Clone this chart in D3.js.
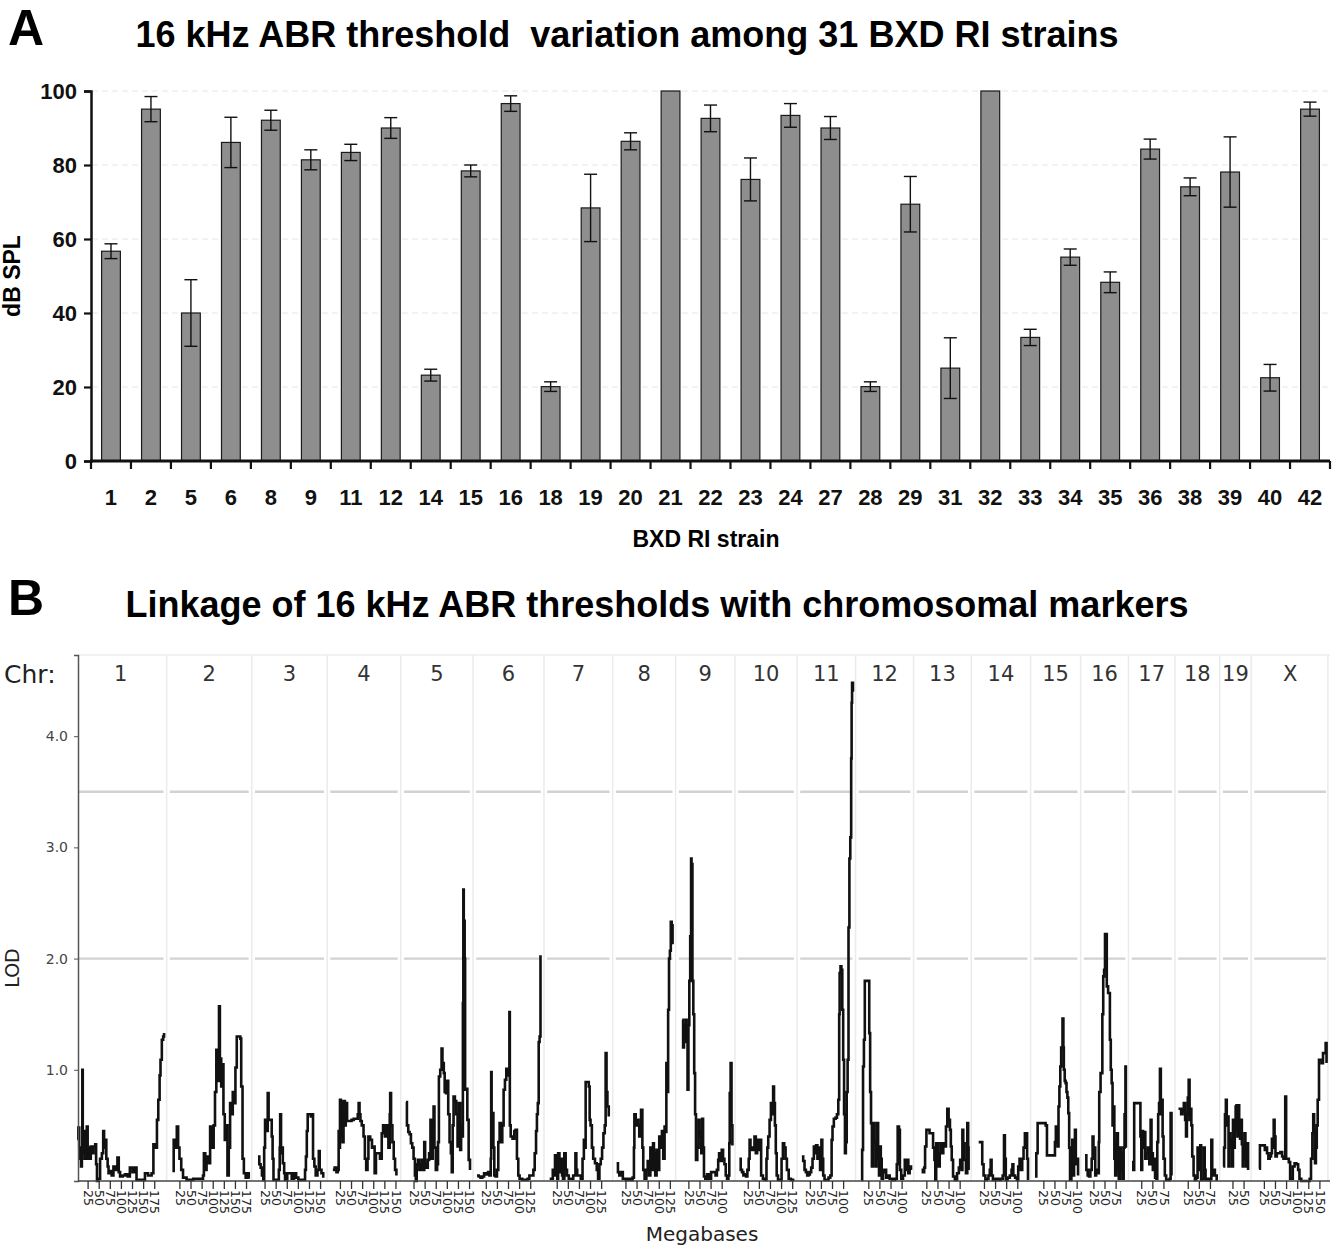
<!DOCTYPE html>
<html><head><meta charset="utf-8">
<script src="https://cdn.jsdelivr.net/npm/d3@7"></script>
<style>
html,body{margin:0;padding:0;background:#fff;}
svg{display:block;}
</style></head>
<body>
<svg id="chart" width="1334" height="1248"></svg>
<script>
// ---------------- Panel A data ----------------
const strains = ["1","2","5","6","8","9","11","12","14","15","16","18","19","20","21","22","23","24","27","28","29","31","32","33","34","35","36","38","39","40","42"];
const thresholds = [56.7,95.1,40.0,86.1,92.1,81.4,83.4,90.0,23.2,78.4,96.6,20.1,68.4,86.4,100,92.6,76.1,93.4,90.0,20.1,69.4,25.1,100,33.4,55.1,48.3,84.3,74.1,78.1,22.5,95.1];
const errors = [2.0,3.4,9.0,6.8,2.7,2.7,2.2,2.8,1.6,1.6,2.1,1.3,9.1,2.3,0,3.6,5.8,3.2,3.1,1.3,7.5,8.2,0,2.2,2.2,2.8,2.7,2.4,9.5,3.6,1.9];
const dbTicks = [0,20,40,60,80,100];

// ---------------- Panel B data ----------------
const chrNames = ["1","2","3","4","5","6","7","8","9","10","11","12","13","14","15","16","17","18","19","X"];
const chrLengths = [197,182,160,156,153,150,145,132,124,130,122,121,120,124,103,98,95,91,61,166];
const lodTicks = [1.0,2.0,3.0,4.0];
const lodThresholds = [3.5,2.0];
const lod1 = [[1.5,0.37],[3,0.48],[5,0.3],[7,0.2],[9,0.13],[11,0.3],[12,1.0],[13,0.25],[15,0.45],[17,0.2],[19,0.35],[22,0.49],[24,0.2],[26,0.3],[29,0.2],[31,0.31],[34,0.25],[37,0.31],[41,0.33],[43,0.15],[45,0.0],[48,0.02],[52,0.2],[56,0.25],[59,0.45],[61,0.3],[63,0.37],[66,0.2],[69,0.13],[71,0.07],[75,0.09],[78,0.05],[82,0.13],[87,0.1],[91,0.21],[94,0.08],[97,0.04],[103,0.05],[108,0.06],[114,0.04],[119,0.12],[125,0.08],[130,0.12],[134,0.01],[149,0.01],[153,0.07],[160,0.05],[168,0.07],[172,0.33],[177,0.3],[180,0.55],[183,0.73],[186,0.95],[188,1.09],[191,1.27],[194,1.3],[196,1.33]];
const lod2 = [[8,0.09],[11,0.37],[14,0.3],[18,0.49],[21,0.3],[24,0.2],[28,0.1],[32,0.03],[40,0.01],[55,0.02],[70,0.02],[77,0.05],[79,0.25],[82,0.1],[85,0.22],[89,0.16],[93,0.49],[97,0.3],[101,0.5],[104,0.8],[107,1.18],[110,0.9],[113,1.57],[115,1.1],[118,0.85],[120,1.05],[123,0.6],[126,0.37],[129,0.5],[132,0.05],[135,0.3],[138,0.7],[141,0.6],[144,0.8],[147,0.7],[150,1.02],[153,1.3],[157,1.3],[161,1.28],[163,0.85],[166,0.2],[169,0.07],[173,0.03],[177,0.07],[180,0.02]];
const lod3 = [[9,0.22],[12,0.15],[15,0.12],[18,0.05],[21,0.01],[23,0.3],[25,0.55],[28,0.45],[31,0.79],[33,0.55],[37,0.55],[40,0.4],[42,0.2],[44,0.01],[50,0.01],[56,0.1],[58,0.3],[59,0.6],[61,0.25],[63,0.3],[65,0.16],[68,0.07],[70,0.01],[75,0.07],[80,0.07],[85,0.02],[90,0.07],[95,0.03],[100,0.01],[110,0.01],[115,0.1],[117,0.22],[119,0.45],[121,0.6],[128,0.58],[131,0.6],[133,0.2],[136,0.13],[139,0.05],[143,0.1],[146,0.27],[148,0.1],[152,0.07],[156,0.03]];
const lod4 = [[8,0.1],[12,0.12],[16,0.08],[19,0.1],[21,0.45],[23,0.3],[24,0.73],[26,0.4],[28,0.7],[30,0.35],[32,0.72],[35,0.5],[37,0.7],[40,0.54],[45,0.54],[50,0.55],[55,0.56],[60,0.56],[64,0.6],[66,0.7],[68,0.6],[70,0.54],[73,0.5],[77,0.4],[80,0.2],[83,0.1],[86,0.2],[88,0.4],[92,0.37],[96,0.3],[99,0.31],[102,0.07],[105,0.25],[110,0.25],[114,0.2],[118,0.43],[121,0.5],[125,0.4],[129,0.5],[133,0.3],[136,0.6],[137,0.79],[139,0.5],[142,0.35],[145,0.2],[148,0.1],[151,0.05]];
const lod5 = [[7,0.71],[9,0.5],[12,0.44],[15,0.42],[18,0.34],[21,0.3],[24,0.2],[27,0.05],[29,0.0],[31,0.15],[34,0.19],[37,0.1],[40,0.15],[43,0.19],[45,0.1],[48,0.35],[50,0.15],[53,0.12],[56,0.19],[59,0.25],[62,0.55],[64,0.2],[67,0.45],[69,0.67],[71,0.3],[74,0.1],[77,0.15],[79,0.35],[81,0.94],[84,1.0],[87,1.19],[89,1.06],[92,0.97],[94,0.8],[97,0.79],[99,0.9],[102,0.6],[105,0.35],[108,0.25],[110,0.08],[112,0.5],[114,0.76],[117,0.72],[120,0.6],[123,0.31],[126,0.7],[129,0.28],[131,0.5],[133,0.4],[135,1.6],[136,2.62],[137,1.8],[138,2.34],[139,2.0],[140,0.82],[142,0.83],[145,0.55],[148,0.19],[151,0.1]];
const lod6 = [[4,0.05],[8,0.04],[12,0.03],[16,0.04],[20,0.07],[25,0.06],[29,0.08],[32,0.05],[35,0.2],[36,0.98],[37,0.3],[39,0.61],[41,0.3],[43,0.05],[46,0.04],[49,0.1],[52,0.35],[55,0.52],[58,0.35],[61,0.5],[64,0.82],[67,0.91],[70,1.01],[73,1.0],[75,0.95],[77,1.52],[78,0.5],[80,0.4],[84,0.38],[88,0.45],[91,0.46],[94,0.2],[97,0.05],[100,0.02],[106,0.01],[113,0.01],[118,0.02],[122,0.05],[127,0.05],[131,0.1],[134,0.25],[137,0.45],[139,0.6],[141,0.7],[143,1.25],[145,1.3],[147,2.03]];
const lod7 = [[8,0.02],[12,0.02],[15,0.1],[18,0.05],[20,0.23],[22,0.08],[25,0.02],[27,0.25],[30,0.08],[33,0.2],[36,0.05],[38,0.02],[41,0.25],[44,0.1],[47,0.05],[51,0.02],[56,0.02],[61,0.05],[66,0.25],[68,0.1],[70,0.05],[74,0.05],[78,0.02],[82,0.2],[85,0.37],[87,0.3],[89,0.89],[93,0.89],[96,0.85],[98,0.55],[100,0.5],[103,0.3],[106,0.2],[110,0.16],[114,0.1],[117,0.02],[120,0.15],[123,0.2],[126,0.3],[129,0.43],[132,0.5],[134,1.15],[136,0.8],[138,0.67],[141,0.58]];
const lod8 = [[4,0.16],[7,0.08],[10,0.05],[13,0.08],[18,0.02],[25,0.01],[30,0.02],[36,0.01],[40,0.03],[43,0.3],[44,0.6],[47,0.5],[50,0.55],[53,0.5],[55,0.4],[57,0.5],[59,0.64],[62,0.3],[64,0.1],[67,0.02],[71,0.1],[74,0.18],[77,0.05],[80,0.3],[83,0.1],[86,0.34],[88,0.25],[91,0.05],[94,0.28],[97,0.1],[100,0.4],[103,0.3],[106,0.45],[109,0.2],[112,0.49],[114,0.44],[116,1.06],[118,0.8],[120,1.54],[122,2.0],[124,2.07],[126,2.33],[128,2.3],[130,2.13]];
const lod9 = [[10,1.45],[12,1.2],[14,1.4],[16,1.25],[18,1.45],[20,1.3],[22,0.82],[24,1.4],[26,1.8],[28,2.2],[30,2.9],[31,2.85],[33,1.8],[35,1.5],[37,0.97],[39,0.6],[41,0.19],[44,0.3],[47,0.55],[49,0.4],[51,0.45],[53,0.25],[55,0.56],[57,0.3],[59,0.04],[62,0.02],[66,0.06],[70,0.02],[75,0.08],[80,0.08],[85,0.05],[88,0.1],[91,0.19],[93,0.25],[96,0.18],[99,0.28],[102,0.2],[105,0.15],[108,0.05],[111,0.02],[114,0.05],[116,0.34],[117,0.79],[119,1.06],[121,0.5],[123,0.32]];
const lod10 = [[5,0.2],[8,0.1],[11,0.08],[14,0.05],[17,0.06],[20,0.04],[23,0.1],[26,0.2],[28,0.37],[30,0.28],[33,0.3],[36,0.28],[39,0.4],[42,0.25],[45,0.37],[48,0.28],[51,0.37],[54,0.05],[58,0.02],[62,0.01],[66,0.2],[68,0.3],[70,0.4],[73,0.55],[76,0.7],[79,0.6],[81,0.85],[83,0.7],[85,0.5],[87,0.25],[89,0.05],[92,0.01],[97,0.01],[100,0.2],[103,0.34],[106,0.3],[109,0.2],[112,0.1],[116,0.02],[121,0.01],[126,0.0]];
const lod11 = [[6,0.22],[9,0.18],[12,0.1],[15,0.08],[18,0.05],[21,0.06],[24,0.08],[27,0.12],[30,0.2],[33,0.31],[36,0.25],[38,0.32],[41,0.2],[44,0.3],[47,0.1],[50,0.37],[52,0.2],[54,0.05],[57,0.01],[62,0.01],[66,0.03],[70,0.05],[73,0.37],[75,0.49],[78,0.56],[82,0.57],[85,0.6],[88,0.73],[90,1.5],[91,1.87],[93,1.93],[95,1.9],[97,1.54],[99,1.09],[101,0.6],[103,0.25],[105,0.35],[107,0.8],[109,1.09],[111,2.28],[113,2.9],[115,3.09],[117,3.8],[118,4.3],[119,4.48],[121,4.4]];
const lod12 = [[8,0.01],[10,0.28],[12,1.03],[14,1.27],[16,1.8],[19,1.8],[23,1.8],[26,1.33],[28,0.8],[30,0.52],[32,0.13],[34,0.52],[36,0.52],[38,0.35],[40,0.13],[42,0.3],[44,0.52],[46,0.2],[48,0.05],[50,0.31],[52,0.2],[54,0.02],[57,0.08],[60,0.1],[64,0.03],[68,0.05],[72,0.02],[78,0.01],[84,0.02],[88,0.15],[90,0.49],[93,0.46],[95,0.1],[98,0.02],[102,0.05],[106,0.19],[108,0.1],[111,0.19],[114,0.07],[117,0.13],[120,0.1]];
const lod13 = [[13,0.1],[16,0.08],[19,0.12],[21,0.31],[24,0.46],[28,0.46],[31,0.43],[35,0.43],[39,0.3],[42,0.19],[44,0.01],[46,0.34],[49,0.34],[51,0.13],[54,0.25],[57,0.34],[59,0.25],[62,0.34],[65,0.31],[68,0.49],[71,0.65],[74,0.55],[77,0.46],[79,0.31],[81,0.19],[84,0.04],[88,0.01],[93,0.07],[97,0.12],[100,0.19],[103,0.1],[105,0.46],[107,0.34],[110,0.19],[113,0.07],[116,0.52],[118,0.3],[119,0.1]];
const lod14 = [[12,0.35],[15,0.35],[18,0.35],[20,0.15],[23,0.05],[27,0.01],[30,0.02],[34,0.05],[37,0.1],[39,0.19],[41,0.05],[44,0.01],[50,0.02],[56,0.01],[62,0.02],[66,0.05],[69,0.41],[71,0.2],[73,0.01],[77,0.03],[82,0.05],[86,0.1],[88,0.15],[90,0.05],[94,0.03],[98,0.01],[101,0.13],[104,0.2],[107,0.1],[110,0.2],[113,0.3],[116,0.43],[119,0.43],[121,0.2],[123,0.01]];
const lod15 = [[5,0.04],[8,0.25],[11,0.52],[15,0.52],[20,0.52],[25,0.52],[29,0.5],[32,0.23],[36,0.23],[42,0.23],[47,0.23],[50,0.35],[52,0.49],[55,0.49],[56,0.31],[58,0.67],[60,0.85],[62,1.03],[64,1.2],[67,1.46],[69,1.2],[70,1.0],[72,0.9],[74,0.88],[76,0.8],[78,0.75],[80,0.61],[82,0.3],[84,0.01],[87,0.1],[89,0.37],[91,0.05],[93,0.2],[95,0.46],[97,0.15],[100,0.2],[102,0.05]];
const lod16 = [[5,0.23],[8,0.1],[11,0.05],[14,0.04],[17,0.1],[20,0.2],[22,0.4],[24,0.2],[26,0.3],[28,0.05],[30,0.1],[33,0.07],[36,0.35],[37,0.8],[40,0.97],[42,0.97],[44,1.5],[46,1.84],[48,1.9],[50,2.22],[52,2.22],[54,1.75],[57,1.69],[59,1.69],[61,1.27],[63,1.0],[65,0.88],[67,0.5],[69,0.67],[71,0.2],[73,0.05],[75,0.35],[77,0.43],[79,0.1],[81,0.02],[84,0.3],[86,0.25],[88,0.1],[90,0.02],[92,0.3],[94,0.6],[96,1.03],[97,0.3]];
const lod17 = [[3,0.17],[6,0.1],[8,0.7],[12,0.7],[16,0.7],[20,0.7],[22,0.4],[24,0.1],[26,0.45],[28,0.3],[30,0.44],[33,0.2],[36,0.25],[39,0.3],[42,0.15],[45,0.55],[47,0.25],[50,0.1],[53,0.2],[55,0.03],[58,0.02],[60,0.35],[62,0.6],[64,0.7],[66,1.01],[68,0.6],[70,0.73],[72,0.4],[74,0.2],[77,0.05],[80,0.01],[84,0.01],[88,0.02],[90,0.61],[92,0.05]];
const lod18 = [[3,0.65],[6,0.65],[9,0.6],[12,0.63],[15,0.7],[18,0.55],[20,0.4],[22,0.6],[24,0.75],[26,0.91],[28,0.55],[30,0.65],[32,0.5],[34,0.22],[37,0.05],[40,0.01],[43,0.03],[46,0.3],[48,0.1],[50,0.3],[52,0.32],[54,0.01],[57,0.02],[60,0.3],[62,0.1],[64,0.01],[68,0.02],[72,0.01],[75,0.02],[77,0.37],[79,0.05],[82,0.1],[85,0.05],[89,0.0]];
const lod19 = [[3,0.13],[5,0.3],[7,0.6],[9,0.73],[11,0.5],[13,0.58],[15,0.13],[17,0.43],[19,0.3],[21,0.38],[23,0.13],[25,0.55],[27,0.3],[29,0.46],[31,0.67],[33,0.68],[35,0.4],[37,0.68],[39,0.5],[41,0.38],[43,0.55],[45,0.33],[47,0.13],[49,0.2],[51,0.43],[53,0.3],[55,0.13],[57,0.34],[59,0.1]];
const lodX = [[13,0.11],[15,0.32],[19,0.32],[23,0.32],[26,0.28],[29,0.3],[31,0.25],[34,0.2],[37,0.22],[40,0.25],[42,0.38],[44,0.3],[46,0.55],[48,0.4],[50,0.22],[53,0.25],[57,0.25],[61,0.26],[65,0.22],[68,0.2],[72,0.76],[74,0.2],[77,0.2],[80,0.17],[83,0.02],[86,0.02],[89,0.13],[93,0.16],[97,0.15],[101,0.1],[104,0.02],[108,0.0],[115,0.0],[122,0.0],[127,0.02],[130,0.2],[133,0.43],[135,0.6],[137,0.45],[139,0.16],[141,0.3],[143,0.5],[145,0.73],[148,1.09],[151,1.09],[154,1.06],[157,1.15],[160,1.15],[163,1.24],[165,1.06]];
const lodByChr = [lod1,lod2,lod3,lod4,lod5,lod6,lod7,lod8,lod9,lod10,lod11,lod12,lod13,lod14,lod15,lod16,lod17,lod18,lod19,lodX];

const svg = d3.select("#chart");
const bold = "'Liberation Sans', Arial, Helvetica, sans-serif";
const verd = "'DejaVu Sans', Verdana, sans-serif";

// ============ PANEL A ============
svg.append("text").attr("x",8).attr("y",45).attr("font-family",bold).attr("font-weight","bold")
  .attr("font-size",50).text("A");
svg.append("text").attr("x",627).attr("y",47).attr("text-anchor","middle").attr("font-family",bold)
  .attr("font-weight","bold").attr("font-size",36).style("white-space","pre")
  .text("16 kHz ABR threshold  variation among 31 BXD RI strains");

const xA = d3.scaleBand().domain(strains).range([91,1330]);
const yA = d3.scaleLinear().domain([0,100]).range([461,91]);
const gA = svg.append("g");

// grid
gA.selectAll("line.grid").data(dbTicks.filter(d=>d>0)).join("line")
  .attr("x1",92).attr("x2",1330).attr("y1",d=>yA(d)).attr("y2",d=>yA(d))
  .attr("stroke","#e6e6e6").attr("stroke-width",1).attr("stroke-dasharray","6,4");

// bars
const bw = xA.bandwidth()*0.47;
gA.selectAll("rect.bar").data(strains).join("rect")
  .attr("x",(d)=>xA(d)+xA.bandwidth()/2-bw/2)
  .attr("y",(d,i)=>yA(thresholds[i]))
  .attr("width",bw)
  .attr("height",(d,i)=>yA(0)-yA(thresholds[i]))
  .attr("fill","#8e8e8e").attr("stroke","#1a1a1a").attr("stroke-width",1.2);

// error bars
const eb = gA.selectAll("g.eb").data(strains.map((s,i)=>({s,v:thresholds[i],e:errors[i]})).filter(d=>d.e>0)).join("g");
eb.append("line").attr("x1",d=>xA(d.s)+xA.bandwidth()/2).attr("x2",d=>xA(d.s)+xA.bandwidth()/2)
  .attr("y1",d=>yA(d.v-d.e)).attr("y2",d=>yA(d.v+d.e)).attr("stroke","#111").attr("stroke-width",1.4);
[-1,1].forEach(sgn=>{
  eb.append("line").attr("x1",d=>xA(d.s)+xA.bandwidth()/2-6.5).attr("x2",d=>xA(d.s)+xA.bandwidth()/2+6.5)
    .attr("y1",d=>yA(d.v+sgn*d.e)).attr("y2",d=>yA(d.v+sgn*d.e)).attr("stroke","#111").attr("stroke-width",1.4);
});

// y axis
const yAxA = d3.axisLeft(yA).tickValues(dbTicks).tickSize(7).tickPadding(7).tickFormat(d3.format("d"));
const gy = gA.append("g").attr("transform","translate(91,0)").call(yAxA);
gy.select(".domain").attr("stroke","#111").attr("stroke-width",2.5);
gy.selectAll(".tick line").attr("stroke","#111").attr("stroke-width",2.2);
gy.selectAll(".tick text").attr("font-family",bold).attr("font-weight","bold").attr("font-size",22).attr("fill","#111");

// x axis line + boundary ticks
gA.append("line").attr("x1",90).attr("x2",1330).attr("y1",461).attr("y2",461).attr("stroke","#111").attr("stroke-width",2.8);
const bounds = strains.map(s=>xA(s)).concat([xA.range()[1]]);
gA.selectAll("line.bt").data(bounds).join("line")
  .attr("x1",d=>d).attr("x2",d=>d).attr("y1",461).attr("y2",469).attr("stroke","#111").attr("stroke-width",2.2);
gA.selectAll("text.xl").data(strains).join("text")
  .attr("x",d=>xA(d)+xA.bandwidth()/2).attr("y",505).attr("text-anchor","middle")
  .attr("font-family",bold).attr("font-weight","bold").attr("font-size",22).attr("fill","#111").text(d=>d);
svg.append("text").attr("x",706).attr("y",547).attr("text-anchor","middle").attr("font-family",bold)
  .attr("font-weight","bold").attr("font-size",23).text("BXD RI strain");
svg.append("text").attr("transform","translate(20,276) rotate(-90)").attr("text-anchor","middle")
  .attr("font-family",bold).attr("font-weight","bold").attr("font-size",23).text("dB SPL");

// ============ PANEL B ============
svg.append("text").attr("x",8).attr("y",615).attr("font-family",bold).attr("font-weight","bold")
  .attr("font-size",50).text("B");
svg.append("text").attr("x",657).attr("y",617).attr("text-anchor","middle").attr("font-family",bold)
  .attr("font-weight","bold").attr("font-size",36)
  .text("Linkage of 16 kHz ABR thresholds with chromosomal markers");

const gapMb = 9.7;
const chrStart = [];
let acc = 0;
chrLengths.forEach((L,i)=>{ chrStart.push(acc); acc += L + (i<chrLengths.length-1?gapMb:0); });
const xB = d3.scaleLinear().domain([0,acc]).range([77,1327]);
const yB = d3.scaleLinear().domain([0,4.73]).range([1181,655]);
const gB = svg.append("g");

// faint frame top & separators
gB.append("line").attr("x1",78).attr("x2",1330).attr("y1",655).attr("y2",655).attr("stroke","#eeeeee").attr("stroke-width",1.5);
const seps = chrLengths.slice(0,-1).map((L,i)=>chrStart[i]+L+gapMb/2);
gB.selectAll("line.sep").data(seps.concat([acc+2])).join("line")
  .attr("x1",d=>xB(d)).attr("x2",d=>xB(d)).attr("y1",655).attr("y2",1181)
  .attr("stroke","#ebebeb").attr("stroke-width",1.5);

// threshold lines per chromosome
lodThresholds.forEach(t=>{
  gB.selectAll(null).data(chrLengths).join("line")
    .attr("x1",(L,i)=>xB(chrStart[i])+1).attr("x2",(L,i)=>xB(chrStart[i]+L)-1)
    .attr("y1",yB(t)).attr("y2",yB(t)).attr("stroke","#d2d2d2").attr("stroke-width",2.4);
});

// chromosome labels
svg.append("text").attr("x",4).attr("y",683).attr("font-family",verd).attr("font-size",25).attr("fill","#222").text("Chr:");
gB.selectAll("text.chr").data(chrNames).join("text")
  .attr("x",(d,i)=>xB(chrStart[i]+chrLengths[i]/2)).attr("y",681).attr("text-anchor","middle")
  .attr("font-family",verd).attr("font-size",21).attr("fill","#333").text(d=>d);

// LOD curves
const line = d3.line().x(d=>d[0]).y(d=>d[1]).curve(d3.curveStepAfter);
lodByChr.forEach((pts,i)=>{
  gB.append("path").attr("d",line(pts.map(p=>[xB(chrStart[i]+p[0]),yB(p[1])])))
    .attr("fill","none").attr("stroke","#111").attr("stroke-width",2.6).attr("stroke-linejoin","miter");
});

// y axis
const yAxB = d3.axisLeft(yB).tickValues(lodTicks).tickSize(4).tickPadding(6).tickFormat(d3.format(".1f"));
const gyB = gB.append("g").attr("transform","translate(78,0)").call(yAxB);
gyB.select(".domain").attr("stroke","#555").attr("stroke-width",1.5);
gyB.selectAll(".tick line").attr("stroke","#555");
gyB.selectAll(".tick text").attr("font-family",verd).attr("font-size",14).attr("fill","#444");
svg.append("text").attr("transform","translate(19,968) rotate(-90)").attr("text-anchor","middle")
  .attr("font-family",verd).attr("font-size",19).attr("fill","#222").text("LOD");

// x axis
gB.append("line").attr("x1",78).attr("x2",1330).attr("y1",1181).attr("y2",1181).attr("stroke","#444").attr("stroke-width",1.6);
const mbTicks = [];
chrLengths.forEach((L,i)=>{ for(let m=25;m<L;m+=25) mbTicks.push({pos:chrStart[i]+m,label:String(m)}); });
gB.selectAll("line.mt").data(mbTicks).join("line")
  .attr("x1",d=>xB(d.pos)).attr("x2",d=>xB(d.pos)).attr("y1",1181).attr("y2",1189)
  .attr("stroke","#333").attr("stroke-width",1.3);
gB.selectAll("text.mt").data(mbTicks).join("text")
  .attr("transform",d=>`translate(${xB(d.pos)},1190) rotate(90)`)
  .attr("dy","0.35em").attr("font-family",verd).attr("font-size",12.5).attr("fill","#222").text(d=>d.label);
svg.append("text").attr("x",702).attr("y",1241).attr("text-anchor","middle").attr("font-family",verd)
  .attr("font-size",20).attr("fill","#222").text("Megabases");
</script>
</body></html>
